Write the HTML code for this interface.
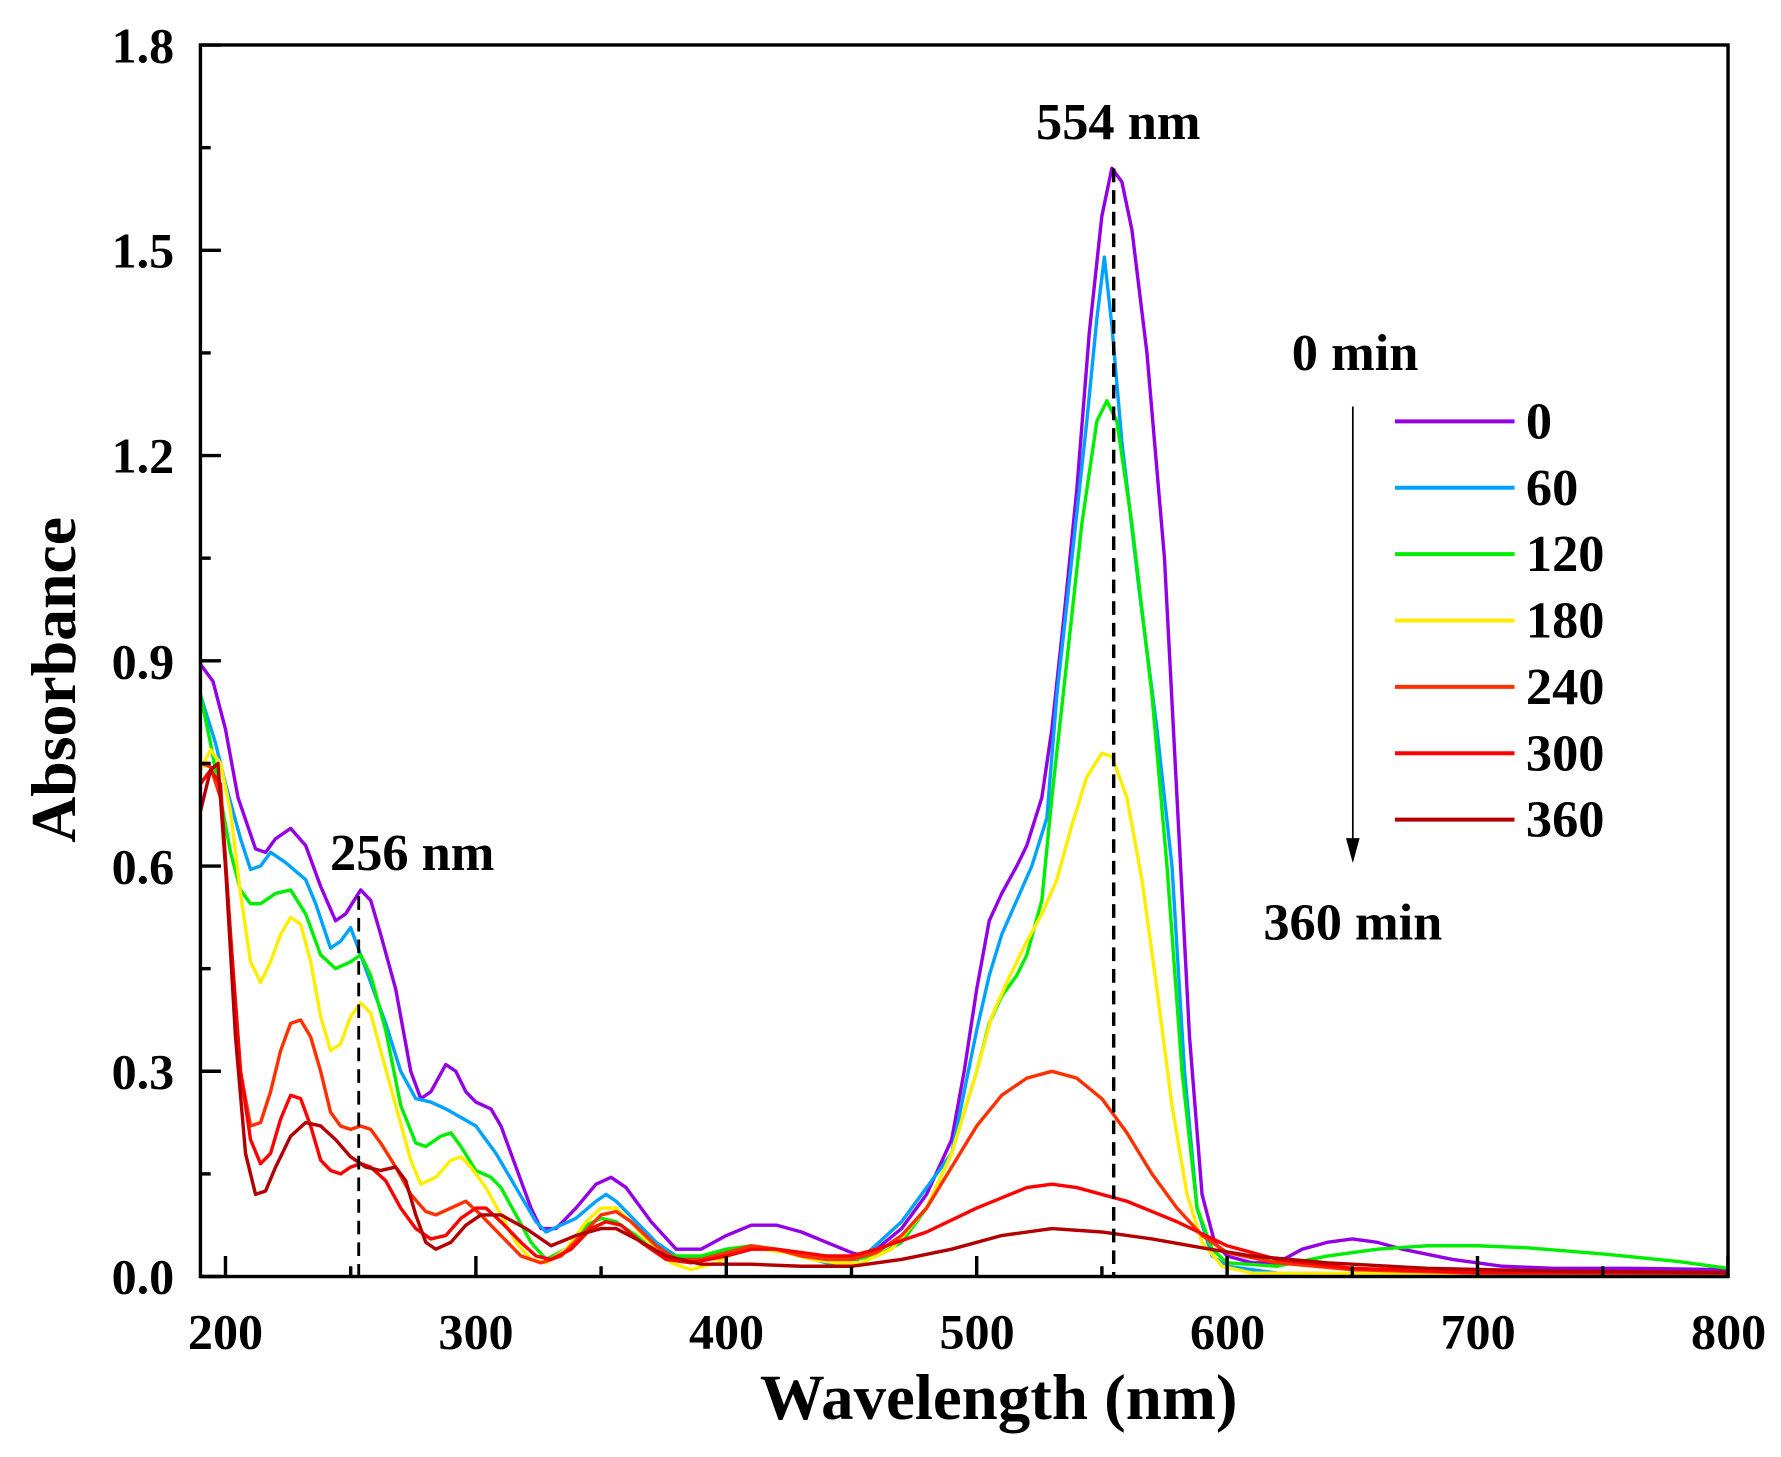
<!DOCTYPE html>
<html><head><meta charset="utf-8"><style>
html,body{margin:0;padding:0;background:#fff}
svg{display:block}
text{font-family:"Liberation Serif",serif;font-weight:bold;fill:#000}
</style></head><body>
<svg id="s" width="1781" height="1457" viewBox="0 0 1564 1279.5" xmlns="http://www.w3.org/2000/svg">
<rect x="0" y="0" width="1564" height="1279.5" fill="#fff"/>
<g id="curves" fill="none" stroke-width="3" stroke-linejoin="round"></g>
<line x1="315" y1="787" x2="315" y2="1121" stroke="#000" stroke-width="2.5" stroke-dasharray="12,7"/>
<line x1="978" y1="148" x2="978" y2="1121" stroke="#000" stroke-width="3" stroke-dasharray="12,7"/>
<rect x="176" y="39.5" width="1341.5" height="1081.5" fill="none" stroke="#000" stroke-width="3"/>
<g id="ticks" stroke="#000" stroke-width="3"></g>
<g font-size="44">
<text x="153" y="55" text-anchor="end">1.8</text>
<text x="153" y="235" text-anchor="end">1.5</text>
<text x="153" y="415" text-anchor="end">1.2</text>
<text x="153" y="596" text-anchor="end">0.9</text>
<text x="153" y="776" text-anchor="end">0.6</text>
<text x="153" y="956" text-anchor="end">0.3</text>
<text x="153" y="1136" text-anchor="end">0.0</text>
<text x="198" y="1184" text-anchor="middle">200</text>
<text x="418" y="1184" text-anchor="middle">300</text>
<text x="638" y="1184" text-anchor="middle">400</text>
<text x="858" y="1184" text-anchor="middle">500</text>
<text x="1078" y="1184" text-anchor="middle">600</text>
<text x="1298" y="1184" text-anchor="middle">700</text>
<text x="1518" y="1184" text-anchor="middle">800</text>
</g>
<g font-size="46">
<text x="982" y="122" text-anchor="middle">554 nm</text>
<text x="362" y="764" text-anchor="middle">256 nm</text>
<text x="1190" y="325" text-anchor="middle">0 min</text>
<text x="1188" y="825" text-anchor="middle">360 min</text>
</g>
<text x="877" y="1246" text-anchor="middle" font-size="57">Wavelength (nm)</text>
<text transform="translate(66,597) rotate(-90)" text-anchor="middle" font-size="56">Absorbance</text>
<line x1="1188" y1="357" x2="1188" y2="740" stroke="#000" stroke-width="1.5"/>
<polygon points="1182,736 1194,736 1188,758" fill="#000"/>
<g id="legend" font-size="46"></g>
</svg>
<script>
var X=function(n){return 176+(n-190)*2.199},Y=function(a){return 1121-a*600.8};
var S=[
["#9400e6",[190,.895,195,.87,200,.8,205,.7,212,.625,216,.62,220,.64,226,.655,232,.63,238,.57,244,.52,248,.53,254,.565,258,.55,262,.5,268,.42,274,.3,278,.26,282,.27,288,.31,292,.3,296,.27,300,.255,306,.245,310,.22,316,.16,322,.1,326,.07,332,.07,340,.1,348,.135,354,.145,360,.13,370,.08,380,.04,390,.04,400,.06,410,.075,420,.075,430,.065,440,.05,450,.035,455,.03,460,.04,470,.07,480,.12,490,.2,495,.3,500,.42,505,.52,510,.56,516,.6,520,.63,526,.7,530,.8,535,.97,540,1.15,545,1.38,550,1.55,554,1.62,558,1.6,562,1.53,568,1.35,575,1.05,580,.7,585,.35,590,.12,595,.05,600,.03,610,.02,620,.02,630,.04,640,.05,650,.055,660,.05,670,.04,690,.025,710,.015,730,.012,760,.012,800,.01]],
["#00a2ff",[190,.85,196,.78,200,.72,206,.64,210,.595,214,.6,218,.62,224,.605,232,.58,236,.545,242,.48,246,.49,250,.51,254,.47,258,.43,264,.37,270,.3,276,.26,282,.255,288,.245,300,.22,308,.18,316,.13,324,.08,328,.065,340,.085,348,.11,352,.12,356,.11,364,.08,372,.05,380,.03,390,.025,400,.03,410,.04,420,.04,430,.03,440,.02,450,.02,455,.03,470,.08,480,.13,490,.18,495,.27,500,.36,505,.44,510,.5,516,.55,522,.6,528,.67,532,.85,538,1.05,544,1.25,548,1.4,551,1.49,554,1.39,558,1.22,565,1.0,572,.8,578,.6,583,.3,588,.1,594,.03,600,.015,620,.005,700,.002,800,0]],
["#00ee00",[190,.85,194,.78,198,.7,202,.62,206,.565,210,.545,214,.545,220,.56,226,.565,232,.53,238,.47,244,.45,250,.46,254,.47,258,.44,264,.36,270,.25,276,.195,280,.19,286,.205,290,.21,294,.19,300,.155,306,.145,310,.13,316,.09,322,.05,328,.025,336,.04,344,.075,350,.085,356,.08,364,.06,372,.035,380,.03,390,.03,400,.04,410,.045,420,.04,430,.035,440,.03,450,.025,460,.03,470,.05,480,.1,490,.18,500,.3,505,.37,510,.41,516,.44,520,.47,526,.55,530,.7,536,.9,542,1.1,548,1.25,552,1.28,556,1.25,562,1.1,570,.85,576,.6,582,.3,588,.1,594,.04,600,.02,620,.015,640,.03,660,.04,680,.045,700,.045,720,.042,750,.033,780,.022,800,.012]],
["#ffee00",[190,.74,194,.77,198,.75,202,.68,206,.56,210,.46,214,.43,218,.46,222,.5,226,.525,230,.515,234,.46,238,.38,242,.33,246,.34,250,.38,254,.4,258,.385,262,.33,268,.25,274,.17,278,.135,284,.145,290,.17,294,.175,298,.16,304,.13,310,.09,316,.05,322,.025,328,.02,336,.04,344,.08,350,.1,356,.1,362,.08,370,.045,378,.02,386,.01,396,.02,406,.04,414,.04,424,.035,434,.025,444,.02,454,.02,466,.04,480,.1,490,.18,500,.3,506,.38,512,.43,520,.49,526,.53,532,.58,538,.66,544,.73,550,.765,554,.76,560,.7,566,.58,572,.42,578,.25,584,.12,590,.05,598,.015,610,.005,800,.003]],
["#ff3000",[190,.75,194,.745,198,.7,202,.5,206,.3,210,.22,214,.225,218,.27,222,.33,226,.37,230,.375,234,.35,238,.3,242,.24,246,.22,250,.215,254,.22,258,.215,262,.195,268,.16,274,.12,280,.095,284,.09,290,.1,296,.11,302,.09,310,.06,318,.03,326,.02,334,.03,342,.06,350,.09,356,.095,362,.08,372,.045,380,.025,390,.025,400,.035,410,.045,420,.04,430,.03,440,.025,450,.025,460,.035,470,.06,480,.1,490,.16,500,.22,510,.265,520,.29,530,.3,540,.29,550,.26,560,.21,570,.15,580,.1,590,.06,600,.035,620,.02,650,.01,700,.005,800,.005]],
["#ff0000",[190,.72,194,.74,198,.72,202,.5,206,.3,210,.2,214,.165,218,.18,222,.23,226,.265,230,.26,234,.22,238,.17,242,.155,246,.15,250,.16,254,.165,258,.16,264,.14,270,.1,276,.07,282,.055,288,.06,294,.085,300,.1,304,.1,310,.08,318,.05,324,.03,330,.025,338,.04,346,.07,352,.08,358,.075,366,.05,376,.025,386,.02,400,.03,410,.04,420,.04,430,.035,440,.03,450,.03,460,.04,480,.065,500,.1,520,.13,530,.135,540,.13,560,.11,580,.08,600,.045,620,.025,650,.012,700,.006,800,.005]],
["#b20000",[190,.68,194,.74,197,.75,200,.6,204,.35,208,.18,212,.12,216,.125,220,.16,226,.205,232,.225,238,.22,244,.2,250,.175,256,.16,262,.155,268,.16,272,.14,276,.09,280,.05,284,.04,290,.05,296,.075,302,.09,310,.09,320,.07,330,.045,340,.06,350,.07,356,.07,364,.055,376,.03,390,.018,410,.018,430,.015,450,.015,470,.025,490,.04,510,.06,530,.07,550,.065,570,.055,590,.042,610,.03,640,.02,680,.012,730,.008,800,.006]]];
var ns="http://www.w3.org/2000/svg",g=document.getElementById("curves"),lg=document.getElementById("legend"),labs=["0","60","120","180","240","300","360"];
S.forEach(function(s,i){var d=s[1],p="";for(var k=0;k<d.length;k+=2)p+=(k?"L":"M")+X(d[k]).toFixed(1)+","+Y(d[k+1]).toFixed(1);
var e=document.createElementNS(ns,"path");e.setAttribute("d",p);e.setAttribute("stroke",s[0]);g.appendChild(e);
var y=370+i*58.3,l=document.createElementNS(ns,"line");l.setAttribute("x1",1225);l.setAttribute("x2",1330);l.setAttribute("y1",y);l.setAttribute("y2",y);l.setAttribute("stroke",s[0]);l.setAttribute("stroke-width",3.5);lg.appendChild(l);
var t=document.createElementNS(ns,"text");t.setAttribute("x",1340);t.setAttribute("y",y+15);t.textContent=labs[i];lg.appendChild(t);});
var tk=document.getElementById("ticks"),h="";
for(var a=0;a<=1.8001;a+=0.15){var yy=Y(a),L=(Math.round(a/0.15)%2==0)?18:9;h+='<line x1="176" x2="'+(176+L)+'" y1="'+yy+'" y2="'+yy+'"/>';}
for(var n=200;n<=800;n+=50){var xx=X(n),L=(n%100==0)?18:9;h+='<line y1="1121" y2="'+(1121-L)+'" x1="'+xx+'" x2="'+xx+'"/>';}
tk.innerHTML=h;
</script>
</body></html>
